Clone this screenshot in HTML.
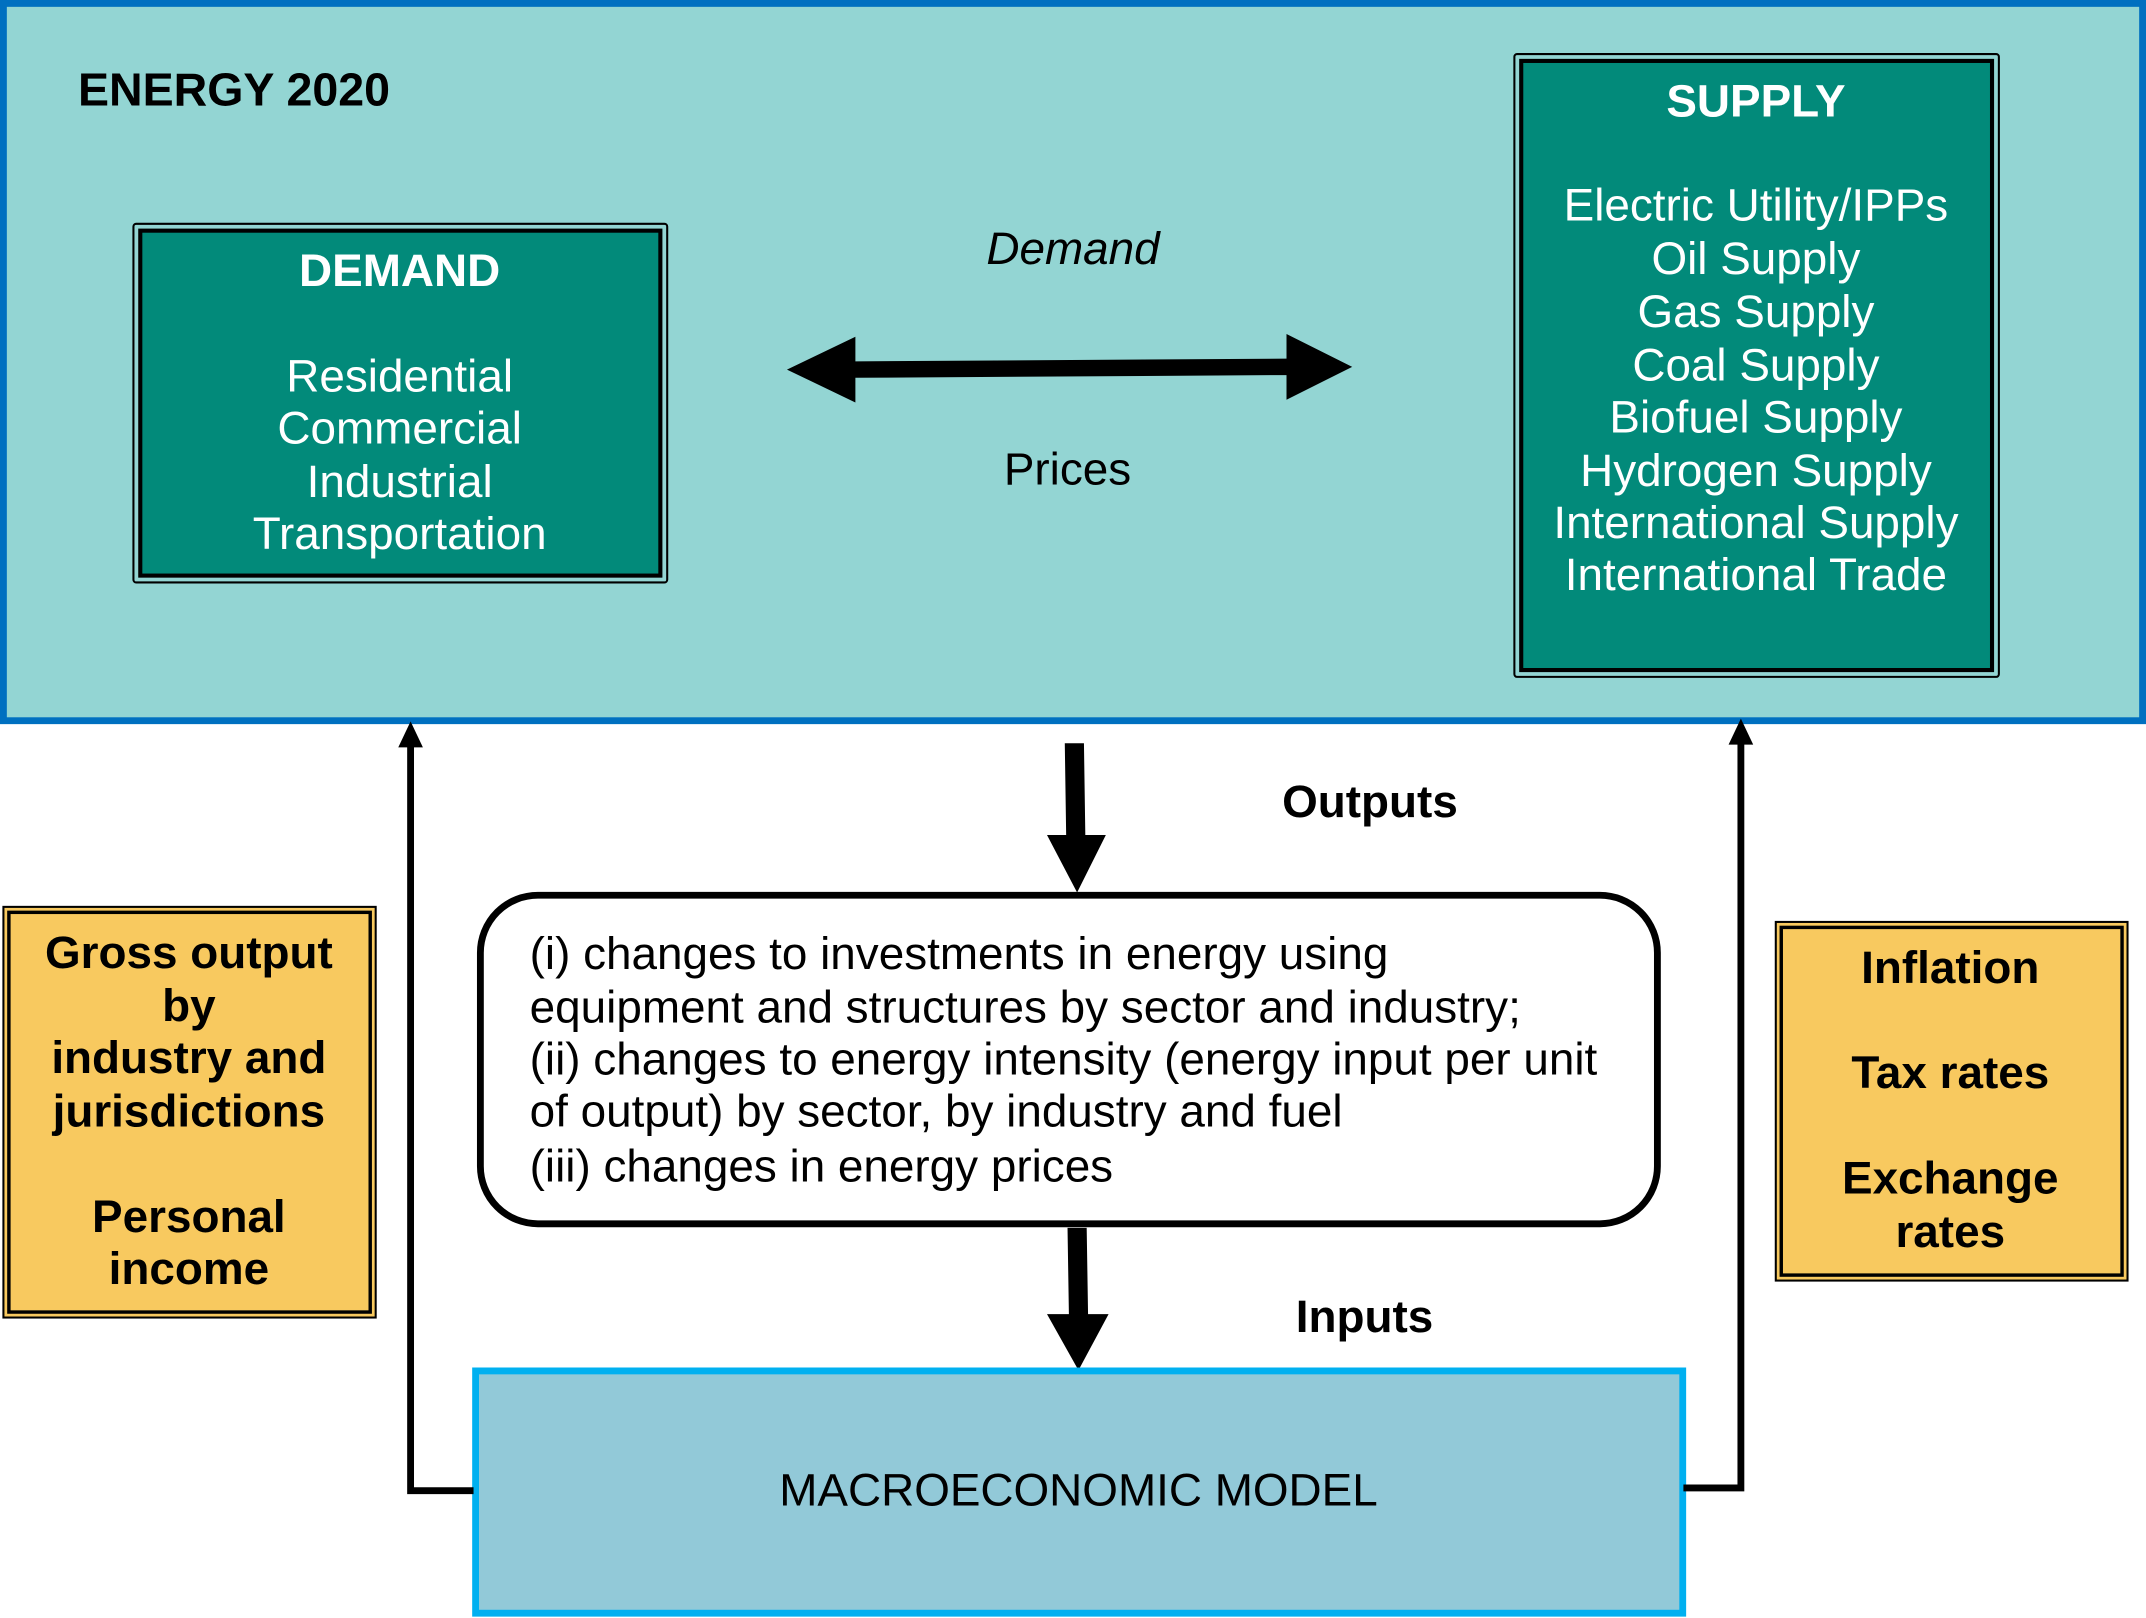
<!DOCTYPE html>
<html><head><meta charset="utf-8"><style>
html,body{margin:0;padding:0;background:#fff;}
svg{display:block;}
text{font-family:"Liberation Sans",Arial,sans-serif;}
</style></head><body>
<svg width="2146" height="1618" viewBox="0 0 1568 1182" preserveAspectRatio="none" xmlns="http://www.w3.org/2000/svg">
<rect x="0" y="0" width="1568" height="1182" fill="#fff"/>
<rect x="2.5" y="2.5" width="1563" height="524" fill="#93d5d3" stroke="#0070c0" stroke-width="5"/>
<text x="57" y="77" font-size="34" font-weight="bold" fill="#000">ENERGY 2020</text>

<rect x="97.5" y="163.5" width="390" height="262" rx="2" fill="#93d5d3" stroke="#000" stroke-width="1.5"/>
<rect x="102.5" y="168.5" width="380" height="252" fill="#028a7a" stroke="#000" stroke-width="3"/>
<g fill="#fff" font-size="33.5" text-anchor="middle">
<text x="292" y="209" font-weight="bold">DEMAND</text>
<text x="292" y="286">Residential</text>
<text x="292" y="324">Commercial</text>
<text x="292" y="363">Industrial</text>
<text x="292" y="401">Transportation</text>
</g>

<rect x="1106.5" y="39.5" width="354" height="455" rx="2" fill="#93d5d3" stroke="#000" stroke-width="1.5"/>
<rect x="1111.5" y="44.5" width="344" height="445" fill="#028a7a" stroke="#000" stroke-width="3"/>
<g fill="#fff" font-size="33.5" text-anchor="middle">
<text x="1283" y="85" font-weight="bold">SUPPLY</text>
<text x="1283" y="161">Electric Utility/IPPs</text>
<text x="1283" y="200">Oil Supply</text>
<text x="1283" y="239">Gas Supply</text>
<text x="1283" y="278">Coal Supply</text>
<text x="1283" y="316">Biofuel Supply</text>
<text x="1283" y="355">Hydrogen Supply</text>
<text x="1283" y="393">International Supply</text>
<text x="1283" y="431">International Trade</text>
</g>

<polygon points="575,270 625,246 625,264 940,262 940,244 988,268 940,292 940,274 625,276 625,294" fill="#000"/>
<text x="784" y="193" font-size="33.5" font-style="italic" text-anchor="middle">Demand</text>
<text x="780" y="354" font-size="33.5" text-anchor="middle">Prices</text>

<polygon points="778,543 792,543 793,610 808,610 787,652 765,610 779,610" fill="#000"/>
<text x="1001" y="597" font-size="33.5" font-weight="bold" text-anchor="middle">Outputs</text>

<rect x="351" y="654" width="860" height="240" rx="42" fill="#fff" stroke="#000" stroke-width="5"/>
<g font-size="33.5" fill="#000">
<text x="387" y="708">(i) changes to investments in energy using</text>
<text x="387" y="747">equipment and structures by sector and industry;</text>
<text x="387" y="785">(ii) changes to energy intensity (energy input per unit</text>
<text x="387" y="823">of output) by sector, by industry and fuel</text>
<text x="387" y="863">(iii) changes in energy prices</text>
</g>

<polygon points="780,897 794,897 795,960 810,960 788,1001 765,960 781,960" fill="#000"/>
<text x="997" y="973" font-size="33.5" font-weight="bold" text-anchor="middle">Inputs</text>

<rect x="347.5" y="1001.5" width="882" height="177" fill="#92c9d8" stroke="#00b0f0" stroke-width="5"/>
<text x="788" y="1100" font-size="33.5" text-anchor="middle">MACROECONOMIC MODEL</text>

<polyline points="346,1089 300,1089 300,540" fill="none" stroke="#000" stroke-width="5"/>
<polygon points="300,527 291,546 309,546" fill="#000"/>
<polyline points="1230,1087 1272,1087 1272,540" fill="none" stroke="#000" stroke-width="5"/>
<polygon points="1272,525 1263,544 1281,544" fill="#000"/>

<rect x="2.5" y="662.5" width="272" height="300" fill="#f8c95f" stroke="#000" stroke-width="1.5"/>
<rect x="6.5" y="666.5" width="264" height="292" fill="#f8c95f" stroke="#000" stroke-width="2.5"/>
<g font-size="33.5" font-weight="bold" text-anchor="middle" fill="#000">
<text x="138" y="707">Gross output</text>
<text x="138" y="746">by</text>
<text x="138" y="784">industry and</text>
<text x="138" y="823">jurisdictions</text>
<text x="138" y="900">Personal</text>
<text x="138" y="938">income</text>
</g>

<rect x="1297.5" y="673.5" width="257" height="262" fill="#f8c95f" stroke="#000" stroke-width="1.5"/>
<rect x="1301.5" y="677.5" width="249" height="254" fill="#f8c95f" stroke="#000" stroke-width="2.5"/>
<g font-size="33.5" font-weight="bold" text-anchor="middle" fill="#000">
<text x="1425" y="718">Inflation</text>
<text x="1425" y="795">Tax rates</text>
<text x="1425" y="872">Exchange</text>
<text x="1425" y="911">rates</text>
</g>
</svg>
</body></html>
